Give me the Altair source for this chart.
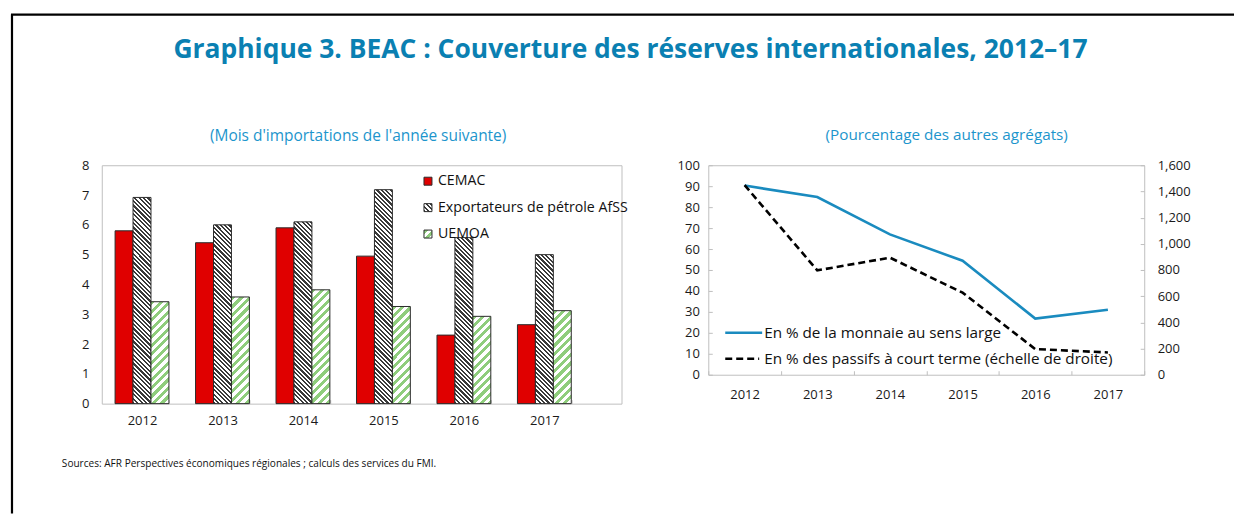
import altair as alt

# ---------------- data ----------------
years = ["2012", "2013", "2014", "2015", "2016", "2017"]
series_names = ["CEMAC", "Exportateurs de pétrole AfSS", "UEMOA"]
cemac = [5.8, 5.4, 5.9, 4.95, 2.3, 2.65]
exportateurs = [6.92, 6.0, 6.1, 7.18, 5.57, 5.0]
uemoa = [3.42, 3.58, 3.82, 3.26, 2.93, 3.12]

line_names = ["En % de la monnaie au sens large",
              "En % des passifs à court terme (échelle de droite)"]
monnaie = [90.3, 84.8, 67.0, 54.4, 26.8, 31.0]
passifs = [1448, 797, 894, 627, 196, 170]

title_text = "Graphique 3. BEAC : Couverture des réserves internationales, 2012–17"
sub_left = "(Mois d'importations de l'année suivante)"
sub_right = "(Pourcentage des autres agrégats)"
source_text = "Sources: AFR Perspectives économiques régionales ; calculs des services du FMI."

# ---------------- style ----------------
FONT = "Open Sans"
TITLE_COLOR = "#0a80b2"
SUB_COLOR = "#1c95cc"
RED = "#e00000"
GREEN = "#8fcd7c"
HATCH_DARK = "#3a3a3a"
BLUE = "#1a8bbf"
FRAME = "#bfbfbf"

LW, LH = 521, 239       # left plot size
RW, RH = 437, 210       # right plot size
BAR_W = 18
PX_PER_UNIT = LH / 8.0


def stripes(w, h, period, ink, paper, frac, direction):
    """linear gradient with hard stops that mimics diagonal hatching"""
    span = w + h
    stops = []
    k = 0
    while k * period < span:
        a = k * period / span
        b = min((k * period + frac * period) / span, 1.0)
        c = min((k + 1) * period / span, 1.0)
        stops += [{"offset": round(a, 5), "color": ink},
                  {"offset": round(b, 5), "color": ink},
                  {"offset": round(b, 5), "color": paper},
                  {"offset": round(c, 5), "color": paper}]
        k += 1
    kk = span / (w * w + h * h)
    if direction == "back":   # "\" lines
        x1, y1, x2, y2 = 0, 1, w * kk, 1 - h * kk
    else:                     # "/" lines
        x1, y1, x2, y2 = 0, 0, w * kk, h * kk
    return {"gradient": "linear", "x1": x1, "y1": y1, "x2": x2, "y2": y2,
            "stops": stops}


def fill_for(series, w, h):
    if series == series_names[0]:
        return RED
    if series == series_names[1]:
        return stripes(w, h, 4.4, HATCH_DARK, "#ffffff", 0.5, "back")
    return stripes(w, h, 8.5, GREEN, "#ffffff", 0.5, "fwd")


rows = []
for i, yr in enumerate(years):
    for s, vals in zip(series_names, [cemac, exportateurs, uemoa]):
        v = vals[i]
        rows.append({"year": yr, "series": s, "value": v,
                     "grad": fill_for(s, BAR_W, max(v * PX_PER_UNIT, 1))})

# ---------------- left panel ----------------
bars = alt.Chart(alt.Data(values=rows)).mark_bar(
    stroke="#2b2b2b", strokeWidth=1
).encode(
    x=alt.X("year:N", sort=years,
            scale=alt.Scale(range=[0, 484], paddingInner=0.331, paddingOuter=0.1655),
            axis=alt.Axis(title=None, labelAngle=0, ticks=True, tickBand="extent",
                          tickSize=4, tickColor=FRAME, offset=-4, domain=False,
                          labelPadding=11)),
    xOffset=alt.XOffset("series:N", sort=series_names,
                        scale=alt.Scale(domain=series_names, paddingInner=0, paddingOuter=0)),
    y=alt.Y("value:Q", scale=alt.Scale(domain=[0, 8], nice=False),
            axis=alt.Axis(title=None, values=list(range(0, 9)), grid=False,
                          ticks=False, domain=False, labelPadding=13)),
    fill=alt.Fill("grad:N", scale=None),
)

one = alt.Data(values=[{"t": ""}])

left_layers = [bars]
leg_y = [16, 42.5, 69]
for i, s in enumerate(series_names):
    g = fill_for(s, 8, 8) if i > 0 else RED
    left_layers.append(
        alt.Chart(alt.Data(values=[{"name": s, "grad": g}])).mark_rect(
            stroke="#2b2b2b", strokeWidth=1
        ).encode(x=alt.value(323), x2=alt.value(331),
                 y=alt.value(leg_y[i] - 4), y2=alt.value(leg_y[i] + 4),
                 fill=alt.Fill("grad:N", scale=None))
    )
    left_layers.append(
        alt.Chart(alt.Data(values=[{"name": s}])).mark_text(
            align="left", baseline="middle", font=FONT, fontSize=14.2, color="#111"
        ).encode(x=alt.value(337), y=alt.value(leg_y[i]), text="name:N")
    )

# main title, subtitle, source, outer frame (positioned relative to left plot)
left_layers.append(
    alt.Chart(alt.Data(values=[{"t": title_text}])).mark_text(
        align="center", baseline="alphabetic", font=FONT, fontSize=26.5,
        fontWeight="bold", color=TITLE_COLOR
    ).encode(x=alt.value(530), y=alt.value(-107), text="t:N")
)
left_layers.append(
    alt.Chart(alt.Data(values=[{"t": sub_left}])).mark_text(
        align="center", baseline="alphabetic", font=FONT, fontSize=15.5, color=SUB_COLOR
    ).encode(x=alt.value(257), y=alt.value(-24), text="t:N")
)
left_layers.append(
    alt.Chart(alt.Data(values=[{"t": source_text}])).mark_text(
        align="left", baseline="alphabetic", font=FONT, fontSize=10.1, color="#111"
    ).encode(x=alt.value(-40), y=alt.value(302), text="t:N")
)
# outer frame: only the top and left edges fall inside the picture
left_layers.append(
    alt.Chart(one).mark_rule(stroke="black", strokeWidth=2.2
    ).encode(x=alt.value(-91), x2=alt.value(1135), y=alt.value(-151))
)
left_layers.append(
    alt.Chart(one).mark_rule(stroke="black", strokeWidth=2.2
    ).encode(x=alt.value(-90), y=alt.value(-151), y2=alt.value(349))
)

left = alt.layer(*left_layers).properties(width=LW, height=LH)

# ---------------- right panel ----------------
lines_rows = [{"year": y, "monnaie": m, "passifs": p}
              for y, m, p in zip(years, monnaie, passifs)]
base = alt.Chart(alt.Data(values=lines_rows))

xr = alt.X("year:N", sort=years,
           scale=alt.Scale(type="band", paddingInner=0, paddingOuter=0),
           axis=alt.Axis(title=None, labelAngle=0, ticks=True, tickBand="extent",
                         tickSize=4, tickColor=FRAME, offset=-4, domain=False,
                         labelPadding=14))

blue = base.mark_line(color=BLUE, strokeWidth=2.6).encode(
    x=xr,
    y=alt.Y("monnaie:Q", scale=alt.Scale(domain=[0, 100], nice=False),
            axis=alt.Axis(title=None, orient="left", values=list(range(0, 101, 10)),
                          grid=False, ticks=True, tickSize=4, tickColor=FRAME,
                          offset=-4, domain=False, labelPadding=9)),
)
dashed = base.mark_line(color="black", strokeWidth=2.6, strokeDash=[7, 4]).encode(
    x=xr,
    y=alt.Y("passifs:Q", scale=alt.Scale(domain=[0, 1600], nice=False),
            axis=alt.Axis(title=None, orient="right", values=list(range(0, 1601, 200)),
                          format=",.0f", grid=False, ticks=True, tickSize=4,
                          tickColor=FRAME, offset=-4, domain=False,
                          labelPadding=13)),
)
lines = alt.layer(blue, dashed).resolve_scale(y="independent")

right_layers = [lines]
ry = [168, 194]
right_layers.append(
    alt.Chart(alt.Data(values=[{"name": line_names[0]}])).mark_rule(
        color=BLUE, strokeWidth=2.6
    ).encode(x=alt.value(17), x2=alt.value(54), y=alt.value(ry[0]))
)
right_layers.append(
    alt.Chart(alt.Data(values=[{"name": line_names[1]}])).mark_rule(
        color="black", strokeWidth=2.6, strokeDash=[7, 4]
    ).encode(x=alt.value(17), x2=alt.value(51), y=alt.value(ry[1]))
)
for i, nm in enumerate(line_names):
    right_layers.append(
        alt.Chart(alt.Data(values=[{"name": nm}])).mark_text(
            align="left", baseline="middle", font=FONT, fontSize=15.3, color="#111"
        ).encode(x=alt.value(56), y=alt.value(ry[i]), text="name:N")
    )
right_layers.append(
    alt.Chart(alt.Data(values=[{"t": sub_right}])).mark_text(
        align="center", baseline="alphabetic", font=FONT, fontSize=15.3, color=SUB_COLOR
    ).encode(x=alt.value(239), y=alt.value(-25), text="t:N")
)

right = alt.layer(*right_layers).resolve_scale(y="independent").properties(width=RW, height=RH)

chart = alt.hconcat(left, right, spacing=87, bounds="flush").properties(
    padding={"left": 1, "top": 4, "right": 0, "bottom": 0}
).configure_view(
    stroke=FRAME, strokeWidth=1
).configure_axis(
    labelFont=FONT, labelFontSize=13, labelColor="#1a1a1a"
)

chart.save("out.html", embed_options={"renderer": "svg", "actions": False})
